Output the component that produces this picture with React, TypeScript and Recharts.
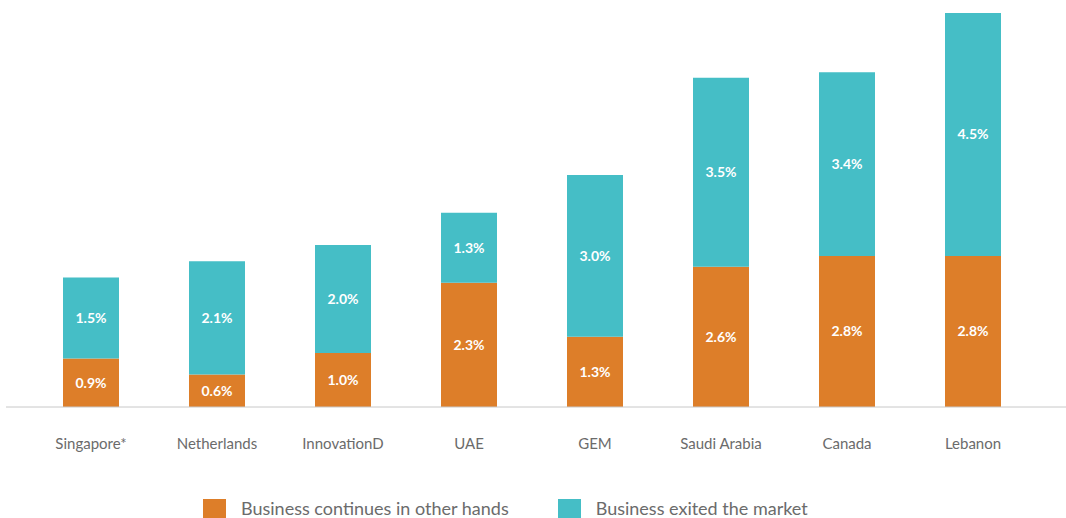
import React from 'react';
import { BarChart, Bar, XAxis, YAxis, Legend, LabelList } from 'recharts';

const categories = ['Singapore*', 'Netherlands', 'InnovationD', 'UAE', 'GEM', 'Saudi Arabia', 'Canada', 'Lebanon'];
const continuesValues = [0.9, 0.6, 1.0, 2.3, 1.3, 2.6, 2.8, 2.8];
const exitedValues = [1.5, 2.1, 2.0, 1.3, 3.0, 3.5, 3.4, 4.5];
const seriesNames = ['Business continues in other hands', 'Business exited the market'];

const ORANGE = '#dd7e29';
const TEAL = '#45bec6';
const TEXT = '#6b6b6b';
const FONT = 'Lato, "Open Sans", sans-serif';

const data = categories.map((name, i) => ({
    name,
    continues: continuesValues[i],
    exited: exitedValues[i],
}));

const pct = (v: any) => `${Number(v).toFixed(1)}%`;

const LegendContent = () => (
    <div style={{ display: 'flex', justifyContent: 'flex-start', paddingLeft: 197, height: 20, alignItems: 'center' }}>
        {[ORANGE, TEAL].map((c, i) => (
            <div key={i} style={{ display: 'flex', alignItems: 'center', marginRight: i === 0 ? 49 : 0 }}>
                <span style={{ display: 'inline-block', width: 23, height: 19, background: c, marginRight: 15 }} />
                <span style={{ color: TEXT, fontSize: 18, lineHeight: '20px', fontFamily: FONT }}>{seriesNames[i]}</span>
            </div>
        ))}
    </div>
);

const App: React.FC = () => {
    return (
        <div style={{ position: 'absolute', left: 0, top: 0, width: 1066, height: 518, background: '#fff', fontFamily: FONT }}>
            <BarChart width={1066} height={518} data={data} margin={{ top: 13, right: 0, left: 6, bottom: 0 }}>
                <XAxis
                    dataKey="name"
                    axisLine={{ stroke: '#c8c8c8' }}
                    tickLine={false}
                    tickMargin={25}
                    height={91}
                    padding={{ left: 22, right: 30 }}
                    interval={0}
                    tick={{ fill: TEXT, fontSize: 15, fontFamily: FONT }}
                />
                <YAxis hide domain={[0, 7.3]} />
                <Legend verticalAlign="bottom" content={<LegendContent />} wrapperStyle={{ bottom: 0 }} />
                <Bar dataKey="continues" name={seriesNames[0]} stackId="a" fill={ORANGE} barSize={56} isAnimationActive={false}>
                    <LabelList dataKey="continues" position="center" formatter={pct} fill="#fff" fontSize={14} fontWeight="bold" fontFamily={FONT} />
                </Bar>
                <Bar dataKey="exited" name={seriesNames[1]} stackId="a" fill={TEAL} barSize={56} isAnimationActive={false}>
                    <LabelList dataKey="exited" position="center" formatter={pct} fill="#fff" fontSize={14} fontWeight="bold" fontFamily={FONT} />
                </Bar>
            </BarChart>
        </div>
    );
};

export default App;
